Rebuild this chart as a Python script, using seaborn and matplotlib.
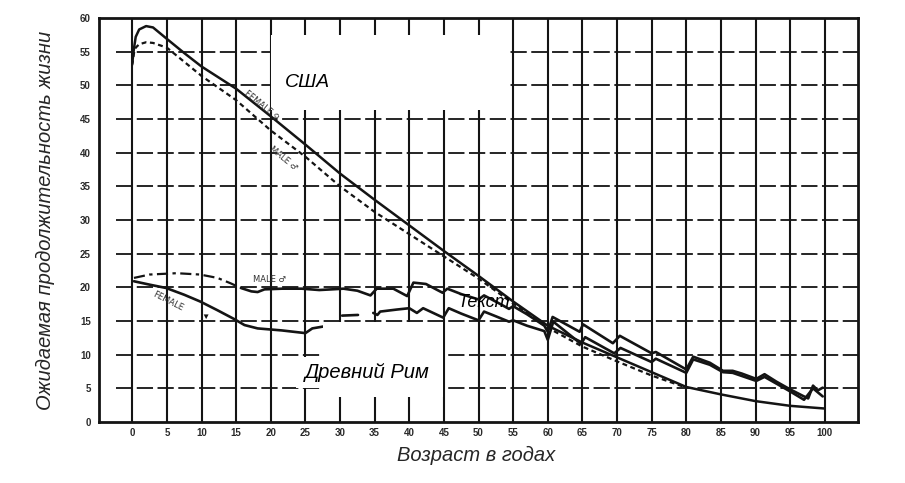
import numpy as np
import pandas as pd
import seaborn as sns
import matplotlib.pyplot as plt
from matplotlib.patches import Rectangle

# USA curves (smooth)
usa_f_age = [0, 0.25, 0.5, 1, 2, 3, 5, 7.5, 10, 15, 20, 25, 30, 35, 40, 45, 50,
             55, 60, 65, 70, 75, 80, 85, 90, 95, 100]
usa_female = [53.3, 55.5, 57.2, 58.3, 58.8, 58.6, 56.9, 54.8, 52.8, 49.5, 45.4,
              41.2, 36.9, 33.0, 29.2, 25.4, 21.7, 17.9, 14.3, 11.8, 9.6, 7.4,
              5.2, 4.1, 3.1, 2.4, 2.0]
usa_m_age = [0, 0.25, 0.5, 1, 2, 3, 5, 7.5, 10, 15, 20, 25, 30, 35, 40, 45, 50,
             55, 60, 65, 70, 75, 80]
usa_male = [53.0, 54.8, 55.6, 56.1, 56.4, 56.3, 55.6, 53.5, 51.4, 47.8, 43.3,
            39.4, 35.0, 31.2, 27.9, 24.6, 21.3, 17.6, 14.0, 11.2, 9.0, 6.9, 5.1]

# Ancient Rome, male (upper): first part dash-dot, then solid
rome_m_age_a = [0.25, 2.5, 6.4, 9.8, 12.3, 14.2, 15.7]
rome_male_a = [21.4, 21.9, 22.1, 21.9, 21.4, 20.6, 19.9]
rome_m_age_b = [15.7, 17.2, 18.1, 19.1, 21.6, 24.5, 27, 28.8, 30.5, 32.5,
                34.4, 35.3, 37.7, 39.7, 40.6, 42.4, 44.8, 45.5, 47.5, 50,
                50.8, 53, 54.4, 55, 57, 59.5, 60, 60.7, 64.6, 65.1,
                69.4, 70.4, 75.0, 75.6, 80, 81, 83.4, 85.3, 86.7, 88,
                90.1, 91.3, 93, 94.9, 96.8, 97.6, 98.3, 99, 99.7]
rome_male_b = [19.9, 19.4, 19.3, 19.7, 19.8, 19.8, 19.6, 19.7, 19.8, 19.5,
               18.8, 19.8, 19.8, 18.7, 20.7, 20.5, 19.2, 19.8, 19.0, 18.2,
               18.8, 17.6, 16.8, 17.2, 16.0, 14.3, 13.4, 15.6, 13.4, 14.5,
               11.7, 12.8, 10.2, 10.4, 7.8, 9.7, 8.8, 7.6, 7.6, 7.2,
               6.4, 7.1, 6.0, 4.9, 3.9, 3.5, 5.4, 4.7, 5.1]

# Ancient Rome, female (lower), three visible pieces
rome_f_age_1 = [0.25, 2.5, 4.9, 7.5, 9.8, 12.3, 14.7, 16.2, 18.1, 21.6, 25, 26, 27.7]
rome_female_1 = [20.9, 20.4, 19.9, 18.9, 17.9, 16.6, 15.3, 14.4, 13.9, 13.6, 13.2, 13.9, 14.2]
rome_f_age_2 = [30.3, 32.6]
rome_female_2 = [15.8, 15.9]
rome_f_age_3 = [34.8, 35.4, 35.8, 38.2, 40, 41.1, 42, 44.9, 45.7, 47.5,
                50, 50.8, 52.5, 54.4, 55, 57, 59.5, 60, 60.8, 64.8,
                65.4, 69.6, 70.5, 75, 75.6, 80, 81, 83.4, 85.3, 86.7,
                90.1, 91.3, 94.9, 97, 98.3, 99.7]
rome_female_3 = [16.2, 15.9, 16.4, 16.7, 16.9, 16.2, 16.9, 15.5, 16.9, 16.1,
                 15.1, 16.4, 15.7, 14.9, 15.1, 14.3, 13.5, 12.2, 14.9, 11.6,
                 12.6, 10.2, 11.0, 8.9, 9.4, 7.3, 9.3, 8.5, 7.4, 7.3,
                 6.1, 6.7, 4.6, 3.3, 5.0, 3.8]

x_ticks = list(range(0, 101, 5))
y_ticks = list(range(0, 61, 5))

sns.set_style("white")
plt.rcParams['font.family'] = ['Liberation Sans', 'DejaVu Sans']

ink = "#141414"
fig = plt.figure(figsize=(9.05, 4.83), dpi=100)
ax = fig.add_axes([0.1094, 0.1263, 0.8387, 0.8364])
ax.set_xlim(-4.8, 104.8)
ax.set_ylim(0, 60)

# grid like the scanned chart paper
ax.vlines(x_ticks, 0, 60, color=ink, lw=1.5, zorder=1)
ax.hlines(y_ticks[1:-1], -2.4, 104.8, color=ink, lw=1.3,
          linestyles=(0, (9, 2.5)), zorder=1)

usa_f = pd.DataFrame({"age": usa_f_age, "value": usa_female})
usa_m = pd.DataFrame({"age": usa_m_age, "value": usa_male})
sns.lineplot(data=usa_f, x="age", y="value", ax=ax, color=ink, lw=1.8,
             estimator=None, sort=False, zorder=3)
sns.lineplot(data=usa_m, x="age", y="value", ax=ax, color=ink, lw=1.6,
             linestyle=(0, (2.2, 1.6)), estimator=None, sort=False, zorder=3)

rm_a = pd.DataFrame({"age": rome_m_age_a, "value": rome_male_a})
rm_b = pd.DataFrame({"age": rome_m_age_b, "value": rome_male_b})
sns.lineplot(data=rm_a, x="age", y="value", ax=ax, color=ink, lw=1.6,
             linestyle=(0, (5, 2, 1.5, 2)), estimator=None, sort=False, zorder=3)
sns.lineplot(data=rm_b, x="age", y="value", ax=ax, color=ink, lw=1.9,
             estimator=None, sort=False, zorder=3)

rf = pd.concat([
    pd.DataFrame({"age": rome_f_age_1, "value": rome_female_1, "seg": 1}),
    pd.DataFrame({"age": rome_f_age_2, "value": rome_female_2, "seg": 2}),
    pd.DataFrame({"age": rome_f_age_3, "value": rome_female_3, "seg": 3}),
])
sns.lineplot(data=rf, x="age", y="value", units="seg", ax=ax, color=ink,
             lw=1.9, estimator=None, sort=False, zorder=3)

# white patches over the original captions
ax.add_patch(Rectangle((20.0, 46.3), 34.5, 11.2, facecolor="white",
                       edgecolor="none", zorder=4))
ax.add_patch(Rectangle((27.6, 3.7), 17.2, 11.2, facecolor="white",
                       edgecolor="none", zorder=4))
ax.add_patch(Rectangle((23.6, 5.0), 21.2, 4.7, facecolor="white",
                       edgecolor="none", zorder=4))

ax.text(25.25, 50.4, "США", fontsize=14, style="italic", ha="center",
        va="center", color="black", zorder=5)
ax.text(34.0, 7.4, "Древний Рим", fontsize=14.5, style="italic", ha="center",
        va="center", color="black", zorder=5)
ax.text(50.8, 17.7, "Текст", fontsize=13, style="italic", ha="center",
        va="center", color="black", zorder=5)

# handwritten marks of the scan
hand = dict(fontsize=6, color="#333333", family="DejaVu Sans", zorder=5,
            ha="center", va="center")
ax.text(18.6, 47.0, "FEMALE ♀", rotation=-39, **hand)
ax.text(21.8, 39.2, "MALE ♂", rotation=-39, **hand)
ax.text(19.8, 21.2, "MALE ♂", rotation=0, **hand)
ax.text(5.2, 17.9, "FEMALE", rotation=-27, **hand)
ax.text(10.5, 15.6, "▼", fontsize=6, color=ink, ha="center", va="center", zorder=5)

ax.set_xticks(x_ticks)
ax.set_yticks(y_ticks)
ax.set_xticklabels([str(v) for v in x_ticks], fontsize=7, fontweight="bold",
                   color="#2a2a2a")
ax.set_yticklabels([str(v) for v in y_ticks], fontsize=7, fontweight="bold",
                   color="#2a2a2a")
ax.tick_params(axis="both", length=0)
ax.tick_params(axis="x", pad=4)
ax.tick_params(axis="y", pad=6)
ax.set_xlabel("")
ax.set_ylabel("")
for s in ax.spines.values():
    s.set_visible(True)
    s.set_color(ink)
    s.set_linewidth(2)

fig.text(476 / 905, 1 - 455 / 483, "Возраст в годах", fontsize=14.5,
         style="italic", ha="center", va="center")
fig.text(45 / 905, 1 - 220 / 483, "Ожидаемая продолжительность жизни",
         fontsize=14.5, style="italic", rotation=90, ha="center", va="center")

fig.savefig("out.png", dpi=100)
